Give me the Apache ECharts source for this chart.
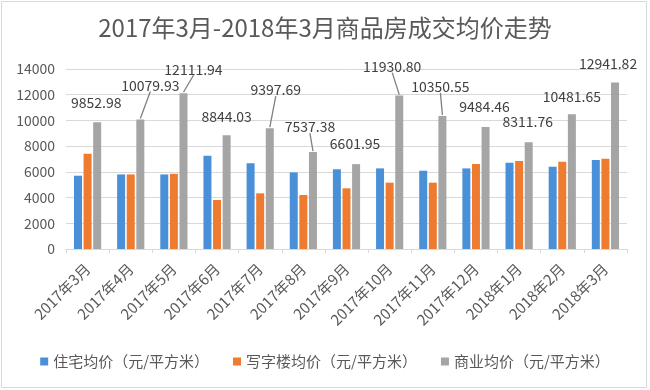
<!DOCTYPE html>
<html><head><meta charset="utf-8">
<script src="https://cdn.jsdelivr.net/npm/echarts@6/dist/echarts.min.js"></script>
<style>html,body{margin:0;padding:0;background:#fff}#c{width:650px;height:390px}</style>
</head><body><div id="c"></div>
<script>
const categories = ['2017年3月','2017年4月','2017年5月','2017年6月','2017年7月','2017年8月','2017年9月','2017年10月','2017年11月','2017年12月','2018年1月','2018年2月','2018年3月'];
const residential = [5700,5800,5800,7260,6660,5960,6200,6270,6090,6270,6710,6400,6920];
const office = [7400,5800,5850,3810,4330,4200,4720,5160,5160,6610,6840,6790,7020];
const commercial = [9852.98,10079.93,12111.94,8844.03,9397.69,7537.38,6601.95,11930.80,10350.55,9484.46,8311.76,10481.65,12941.82];
const seriesNames = ['住宅均价（元/平方米）','写字楼均价（元/平方米）','商业均价（元/平方米）'];
const yMin = 0, yMax = 14000, yStep = 2000;
const titleText = '2017年3月-2018年3月商品房成交均价走势';

// label placement (layout only)
const labelShift = [[-1,-8],[10,-22],[10,-12],[0,-7],[6,-26],[-3,-13],[-1,-8],[-7,-17],[-2,-17],[-1,-8],[-1,-8],[0,-6],[-7,-7]];
const withGuide = [false,true,true,false,true,true,false,true,true,false,false,false,false];

const FONT = '"Noto Sans CJK SC", "Noto Sans", sans-serif';
const colors = ['#4A90D8','#EE7B30','#A5A5A5'];
const LABEL_DIST = 5;
const BAR_W = 8, BAR_GAP = 0.2;
const grayOffset = BAR_W + BAR_W*BAR_GAP; // centre of third bar relative to category centre

const guideData = [];
commercial.forEach((v,i)=>{ if(withGuide[i]) guideData.push([i, v, labelShift[i][0], labelShift[i][1]]); });

const chart = echarts.init(document.getElementById('c'), null, {renderer:'canvas'});
chart.setOption({
  animation:false,
  color: colors,
  textStyle:{fontFamily:FONT},
  graphic:[{type:'rect', silent:true, shape:{x:1.5,y:1.5,width:645,height:386}, style:{fill:'none', stroke:'#d9d9d9', lineWidth:1}}],
  title:{text:titleText, left:'center', top:11, textStyle:{fontFamily:FONT, fontSize:24, fontWeight:'normal', color:'#595959'}},
  legend:{data:seriesNames, bottom:16, left:'center', icon:'rect', itemWidth:8, itemHeight:8, itemGap:24,
    textStyle:{fontFamily:FONT, fontSize:15, color:'#595959'}},
  grid:{left:66, right:23, top:69, bottom:141},
  xAxis:{type:'category', data:categories, boundaryGap:true,
    axisLine:{lineStyle:{color:'#d9d9d9'}},
    axisTick:{show:true, length:4, lineStyle:{color:'#d9d9d9'}},
    axisLabel:{rotate:45, fontSize:15, color:'#595959', margin:17, fontFamily:FONT}},
  yAxis:{type:'value', min:yMin, max:yMax, interval:yStep,
    axisLine:{show:false}, axisTick:{show:false},
    axisLabel:{fontSize:14, color:'#595959', margin:11, fontFamily:FONT, formatter:v=>String(v)},
    splitLine:{lineStyle:{color:'#d9d9d9'}}},
  series:[
    {name:seriesNames[0], type:'bar', data:residential, barWidth:BAR_W, barGap:(BAR_GAP*100)+'%'},
    {name:seriesNames[1], type:'bar', data:office, barWidth:BAR_W, barGap:(BAR_GAP*100)+'%'},
    {name:seriesNames[2], type:'bar', data:commercial, barWidth:BAR_W, barGap:(BAR_GAP*100)+'%',
      label:{show:true, position:'top', distance:LABEL_DIST, fontSize:14, color:'#404040', fontFamily:FONT,
        formatter:p=>Number(p.value).toFixed(2)},
      labelLayout:function(p){ const s = labelShift[p.dataIndex]; return {dx:s[0], dy:s[1]}; }
    },
    {name:'guides', type:'custom', silent:true, z:5, data:guideData,
      encode:{x:0, y:1},
      renderItem:function(params, api){
        const c = api.coord([api.value(0), api.value(1)]);
        const bx = c[0] + grayOffset, top = c[1];
        const dx = api.value(2), dy = api.value(3);
        return {type:'line', shape:{x1:bx, y1:top-1, x2:bx+dx, y2:top-LABEL_DIST+dy-1},
          style:{stroke:'#7f7f7f', lineWidth:1.3}};
      }
    }
  ]
});
</script></body></html>
